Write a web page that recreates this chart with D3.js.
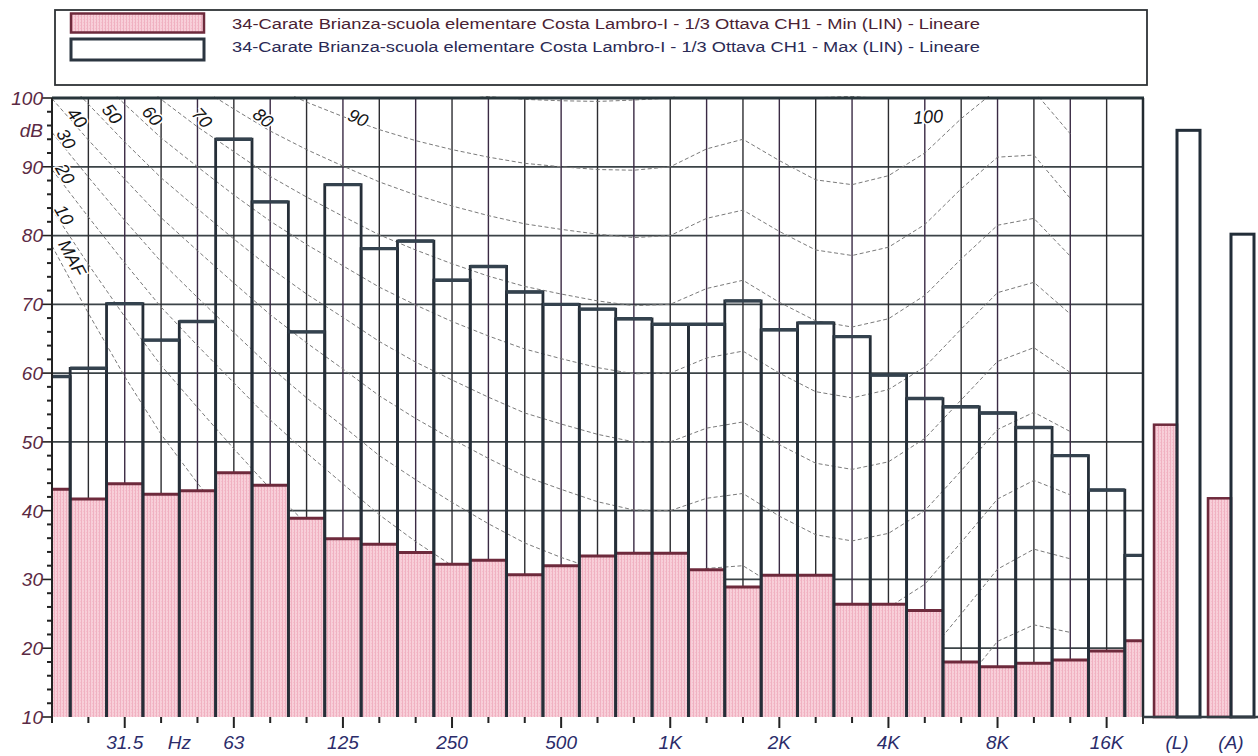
<!DOCTYPE html>
<html><head><meta charset="utf-8">
<script src="https://cdn.jsdelivr.net/npm/d3@7"></script>
<style>body{margin:0;background:#fff;} svg{display:block;font-family:"Liberation Sans",Arial,sans-serif;}</style>
</head><body><svg id="c" width="1258" height="756"></svg>
<script>
// ---------- DATA ----------
const bands = ["20","25","31.5","40","50","63","80","100","125","160","200","250","315","400","500","630","800","1K","1.25K","1.6K","2K","2.5K","3.15K","4K","5K","6.3K","8K","10K","12.5K","16K","20K"];
const maxValues = [59.5,60.7,70.1,64.8,67.5,94.0,84.9,66.0,87.4,78.1,79.2,73.5,75.5,71.8,70.0,69.3,67.9,67.1,67.1,70.5,66.3,67.3,65.3,59.7,56.3,55.1,54.2,52.1,48.0,43.0,33.5];
const minValues = [43.1,41.7,43.9,42.4,42.9,45.5,43.7,38.9,35.9,35.1,33.9,32.2,32.8,30.7,32.0,33.4,33.8,33.8,31.4,28.9,30.6,30.6,26.4,26.4,25.5,18.0,17.3,17.8,18.3,19.6,21.1];
const labeledBands = ["31.5","63","125","250","500","1K","2K","4K","8K","16K"];
const totalCategories = ["(L)","(A)"];
const totalMin = [52.5,41.8];
const totalMax = [95.3,80.2];
const yTicks = [10,20,30,40,50,60,70,80,90,100];
const legendLabels = [
  "34-Carate Brianza-scuola elementare Costa Lambro-I - 1/3 Ottava CH1 - Min (LIN) - Lineare",
  "34-Carate Brianza-scuola elementare Costa Lambro-I - 1/3 Ottava CH1 - Max (LIN) - Lineare"
];
// equal-loudness contours, 20 Hz .. 12.5 kHz
const contourBands = ["20","25","31.5","40","50","63","80","100","125","160","200","250","315","400","500","630","800","1K","1.25K","1.6K","2K","2.5K","3.15K","4K","5K","6.3K","8K","10K","12.5K"];
const phonMAF = [78.5,68.7,59.5,51.1,44.0,37.5,31.5,26.5,22.1,17.9,14.4,11.4,8.6,6.2,4.4,3.0,2.2,2.4,3.5,1.7,-1.3,-4.2,-6.0,-5.4,-1.5,6.0,12.6,13.9,12.3];
const phon10 = [83.8,75.8,68.2,61.1,55.0,49.0,43.2,38.1,33.5,28.8,24.8,21.3,18.1,15.1,13.0,11.2,10.0,10.0,11.3,10.4,7.3,4.5,3.0,3.8,7.5,14.4,21.0,23.4,22.3];
const phon20 = [89.6,82.7,76.0,69.6,64.0,58.6,53.2,48.4,43.9,39.4,35.5,32.0,28.7,25.7,23.4,21.5,20.1,20.0,21.5,21.4,18.2,15.4,14.3,15.1,18.6,25.0,31.5,34.4,33.0];
const phon30 = [95.0,88.5,82.2,76.2,71.0,65.9,60.9,56.4,52.3,48.0,44.5,41.2,38.1,35.3,33.2,31.4,30.1,30.0,31.6,32.0,28.7,25.9,24.9,25.9,29.3,35.4,41.7,44.4,42.3];
const phon40 = [99.9,93.9,88.2,82.6,77.8,73.1,68.5,64.4,60.6,56.7,53.4,50.4,47.6,45.0,43.1,41.3,40.1,40.0,41.8,42.5,39.2,36.5,35.6,36.7,40.0,45.8,51.8,54.3,51.5];
const phon50 = [104.7,99.1,93.6,88.4,83.9,79.5,75.3,71.5,68.1,64.6,61.6,59.0,56.5,54.2,52.6,51.1,50.0,50.0,52.0,52.9,49.6,46.9,46.0,47.1,50.5,56.1,61.7,63.7,60.1];
const phon60 = [109.5,104.2,99.1,94.2,90.0,85.9,82.1,78.7,75.6,72.5,69.9,67.5,65.4,63.5,62.1,60.8,59.9,60.0,62.2,63.2,60.0,57.3,56.4,57.6,60.9,66.4,71.7,73.2,68.6];
const phon70 = [114.3,109.2,104.4,99.8,95.8,92.2,88.6,85.6,82.8,80.1,77.9,75.9,74.1,72.6,71.5,70.5,69.8,70.0,72.3,73.5,70.3,67.6,66.7,67.9,71.3,76.6,81.5,82.5,77.0];
const phon80 = [119.0,114.2,109.7,105.3,101.7,98.4,95.2,92.5,90.1,87.8,85.9,84.3,82.9,81.7,80.9,80.2,79.7,80.0,82.5,83.7,80.6,77.9,77.1,78.3,81.6,86.8,91.4,91.7,85.4];
const phon90 = [123.7,119.2,114.9,110.9,107.6,104.6,101.8,99.4,97.3,95.4,93.8,92.5,91.4,90.5,90.0,89.6,89.5,90.0,92.6,94.0,90.9,88.1,87.4,88.7,92.0,97.0,101.3,101.0,94.8];
const phon100 = [128.0,124.0,120.0,116.5,113.5,111.0,108.5,106.3,104.5,103.0,101.8,100.8,100.2,99.8,99.6,99.5,99.7,100.0,102.7,104.3,101.2,100.4,100.2,100.6,102.3,107.0,111.0,110.3,104.0];

// ---------- LAYOUT ----------
const W = 1258, H = 756;
const pL = 52, pR = 1143, pT = 98, pB = 717;
const step = (pR - pL) / (bands.length - 1);
const svg = d3.select("#c");
const x = d3.scaleBand().domain(bands).range([pL - step/2, pR + step/2]).padding(0);
const cx = b => x(b) + x.bandwidth()/2;
const y = d3.scaleLinear().domain([10,100]).range([pB, pT]);

const defs = svg.append("defs");
const pat = defs.append("pattern").attr("id","pink").attr("patternUnits","userSpaceOnUse").attr("width",3).attr("height",3);
pat.append("rect").attr("width",3).attr("height",3).attr("fill","#f8cfd9");
pat.append("rect").attr("width",1).attr("height",3).attr("fill","#f0b1c1");
pat.append("rect").attr("x",2).attr("y",1).attr("width",1).attr("height",1).attr("fill","#f4bfcc");
defs.append("clipPath").attr("id","plotClip").append("rect")
  .attr("x",pL).attr("y",pT-2).attr("width",pR-pL).attr("height",pB-pT+2);

// grid
const grid = svg.append("g");
grid.selectAll("line.h").data(yTicks.filter(d=>d>10 && d<100)).join("line")
  .attr("x1",pL).attr("x2",pR).attr("y1",d=>y(d)).attr("y2",d=>y(d))
  .attr("stroke","#3b4347").attr("stroke-width",1.7);
grid.selectAll("line.v").data(bands.slice(1,-1)).join("line")
  .attr("x1",cx).attr("x2",cx).attr("y1",pT).attr("y2",pB)
  .attr("stroke",(d,i)=> i%2 ? "#3a2a44" : "#2c2c30").attr("stroke-width",1.4);

// contours
const contours = [phonMAF,phon10,phon20,phon30,phon40,phon50,phon60,phon70,phon80,phon90,phon100];
const line = d3.line().x((d,i)=>cx(contourBands[i])).y(d=>y(d)).curve(d3.curveLinear);
const cg = svg.append("g").attr("clip-path","url(#plotClip)");
cg.selectAll("path").data(contours).join("path")
  .attr("d",line).attr("fill","none").attr("stroke","#7a7a7a")
  .attr("stroke-width",1).attr("stroke-dasharray","4,2.5");

// contour labels (positions are layout)
const clabels = [
  {t:"40",x:77,y:118,r:52},{t:"50",x:112,y:114,r:52},{t:"60",x:152,y:116,r:50},
  {t:"70",x:202,y:118,r:48},{t:"80",x:263,y:118,r:40},{t:"90",x:358,y:118,r:24},
  {t:"100",x:928,y:117,r:-4},
  {t:"30",x:66,y:139,r:60},{t:"20",x:65,y:174,r:60},{t:"10",x:64,y:215,r:60},{t:"MAF",x:72,y:258,r:62}
];
svg.append("g").selectAll("text").data(clabels).join("text")
  .attr("transform",d=>`translate(${d.x},${d.y}) rotate(${d.r})`)
  .attr("text-anchor","middle").attr("dominant-baseline","central")
  .attr("font-size",18).attr("font-style","italic").attr("fill","#151515")
  .attr("stroke","#fff").attr("stroke-width",3).attr("paint-order","stroke")
  .text(d=>d.t);

// bars
const bg = svg.append("g").attr("clip-path","url(#plotClip)");
bg.selectAll("rect.min").data(bands).join("rect")
  .attr("x",d=>x(d)).attr("width",x.bandwidth())
  .attr("y",(d,i)=>y(minValues[i])).attr("height",(d,i)=>pB-y(minValues[i]))
  .attr("fill","url(#pink)");
bg.selectAll("line.mintop").data(bands).join("line")
  .attr("x1",d=>x(d)).attr("x2",d=>x(d)+x.bandwidth())
  .attr("y1",(d,i)=>y(minValues[i])).attr("y2",(d,i)=>y(minValues[i]))
  .attr("stroke","#6e2a3c").attr("stroke-width",3);
bg.selectAll("path.max").data(bands).join("path")
  .attr("d",(d,i)=>{const x0=x(d),x1=x(d)+x.bandwidth(),yt=y(maxValues[i]);
     return `M${x0},${pB}V${yt}H${x1}V${pB}`;})
  .attr("fill","none").attr("stroke","#252e38").attr("stroke-width",2.8);
bg.selectAll("line.maxtop").data(bands).join("line")
  .attr("x1",d=>x(d)).attr("x2",d=>x(d)+x.bandwidth())
  .attr("y1",(d,i)=>y(maxValues[i])).attr("y2",(d,i)=>y(maxValues[i]))
  .attr("stroke","#34424e").attr("stroke-width",3.4);

// borders
svg.append("line").attr("x1",pL).attr("x2",pR+1).attr("y1",pT).attr("y2",pT).attr("stroke","#27353b").attr("stroke-width",3);
svg.append("line").attr("x1",pR).attr("x2",pR).attr("y1",pT).attr("y2",pB).attr("stroke","#222a30").attr("stroke-width",2.5);
svg.append("line").attr("x1",pL).attr("x2",pL).attr("y1",pT).attr("y2",pB).attr("stroke","#222").attr("stroke-width",2);

// y axis
const ya = svg.append("g");
const minor = d3.range(12,100,2).filter(d=>d%10!==0);
ya.selectAll("line.mi").data(minor).join("line")
  .attr("x1",47).attr("x2",pL).attr("y1",d=>y(d)).attr("y2",d=>y(d))
  .attr("stroke","#222").attr("stroke-width",2);
ya.selectAll("line.ma").data(yTicks).join("line")
  .attr("x1",42).attr("x2",pL).attr("y1",d=>y(d)).attr("y2",d=>y(d))
  .attr("stroke","#222").attr("stroke-width",1.6);
ya.selectAll("text").data(yTicks).join("text")
  .attr("x",43).attr("y",d=>y(d)).attr("dy","0.36em").attr("text-anchor","end")
  .attr("font-size",19).attr("font-style","italic").attr("fill","#5b2a44").text(d=>d);
ya.append("text").attr("x",43).attr("y",y(95.3)).attr("dy","0.36em").attr("text-anchor","end")
  .attr("font-size",19).attr("font-style","italic").attr("fill","#5b2a44").text("dB");

// x axis
const xa = svg.append("g");
xa.selectAll("line").data(bands.slice(0,-1)).join("line")
  .attr("x1",cx).attr("x2",cx).attr("y1",pB)
  .attr("y2",d=>labeledBands.includes(d)?pB+11:pB+6)
  .attr("stroke","#222").attr("stroke-width",2);
xa.selectAll("text").data(labeledBands).join("text")
  .attr("x",cx).attr("y",749).attr("text-anchor","middle")
  .attr("font-size",19).attr("font-style","italic").attr("fill","#2b2c6a").text(d=>d);
xa.append("text").attr("x",x("50")).attr("y",749).attr("text-anchor","middle")
  .attr("font-size",19).attr("font-style","italic").attr("fill","#2b2c6a").text("Hz");

// totals section
const x2 = d3.scaleBand().domain(totalCategories).range([1150,1258]).padding(0);
const sub = d3.scaleBand().domain(["min","max"]).range([4,50]).padding(0);
const tg = svg.append("g");
tg.selectAll("rect.tmin").data(totalCategories).join("rect")
  .attr("x",d=>x2(d)+sub("min")).attr("width",sub.bandwidth())
  .attr("y",(d,i)=>y(totalMin[i])).attr("height",(d,i)=>pB-y(totalMin[i]))
  .attr("fill","url(#pink)").attr("stroke","#6e2a3c").attr("stroke-width",2.5);
tg.selectAll("rect.tmax").data(totalCategories).join("rect")
  .attr("x",d=>x2(d)+sub("max")).attr("width",sub.bandwidth())
  .attr("y",(d,i)=>y(totalMax[i])).attr("height",(d,i)=>pB-y(totalMax[i]))
  .attr("fill","none").attr("stroke","#222d38").attr("stroke-width",3);
tg.append("line").attr("x1",pR).attr("x2",W).attr("y1",pB).attr("y2",pB).attr("stroke","#333d44").attr("stroke-width",2.5);
tg.append("line").attr("x1",pR).attr("x2",pR).attr("y1",pB).attr("y2",pB+7).attr("stroke","#333").attr("stroke-width",2);
tg.selectAll("text").data(totalCategories).join("text")
  .attr("x",d=>x2(d)+sub("max")).attr("y",749).attr("text-anchor","middle")
  .attr("font-size",19).attr("font-style","italic").attr("fill","#2b2c6a").text(d=>d);

// legend
const lg = svg.append("g");
lg.append("rect").attr("x",55).attr("y",10).attr("width",1092).attr("height",75)
  .attr("fill","none").attr("stroke","#2e3236").attr("stroke-width",1.8);
lg.append("rect").attr("x",71).attr("y",13.5).attr("width",133).attr("height",19)
  .attr("fill","url(#pink)").attr("stroke","#6e2a3c").attr("stroke-width",2.5);
lg.append("rect").attr("x",71).attr("y",39).attr("width",133).attr("height",21)
  .attr("fill","#fff").attr("stroke","#2b3540").attr("stroke-width",3);
lg.selectAll("text").data(legendLabels).join("text")
  .attr("x",232).attr("y",(d,i)=>29+i*23)
  .attr("font-size",14).attr("fill",(d,i)=>i?"#2a2a55":"#4a2233")
  .attr("textLength",748).attr("lengthAdjust","spacingAndGlyphs").text(d=>d);
</script></body></html>
